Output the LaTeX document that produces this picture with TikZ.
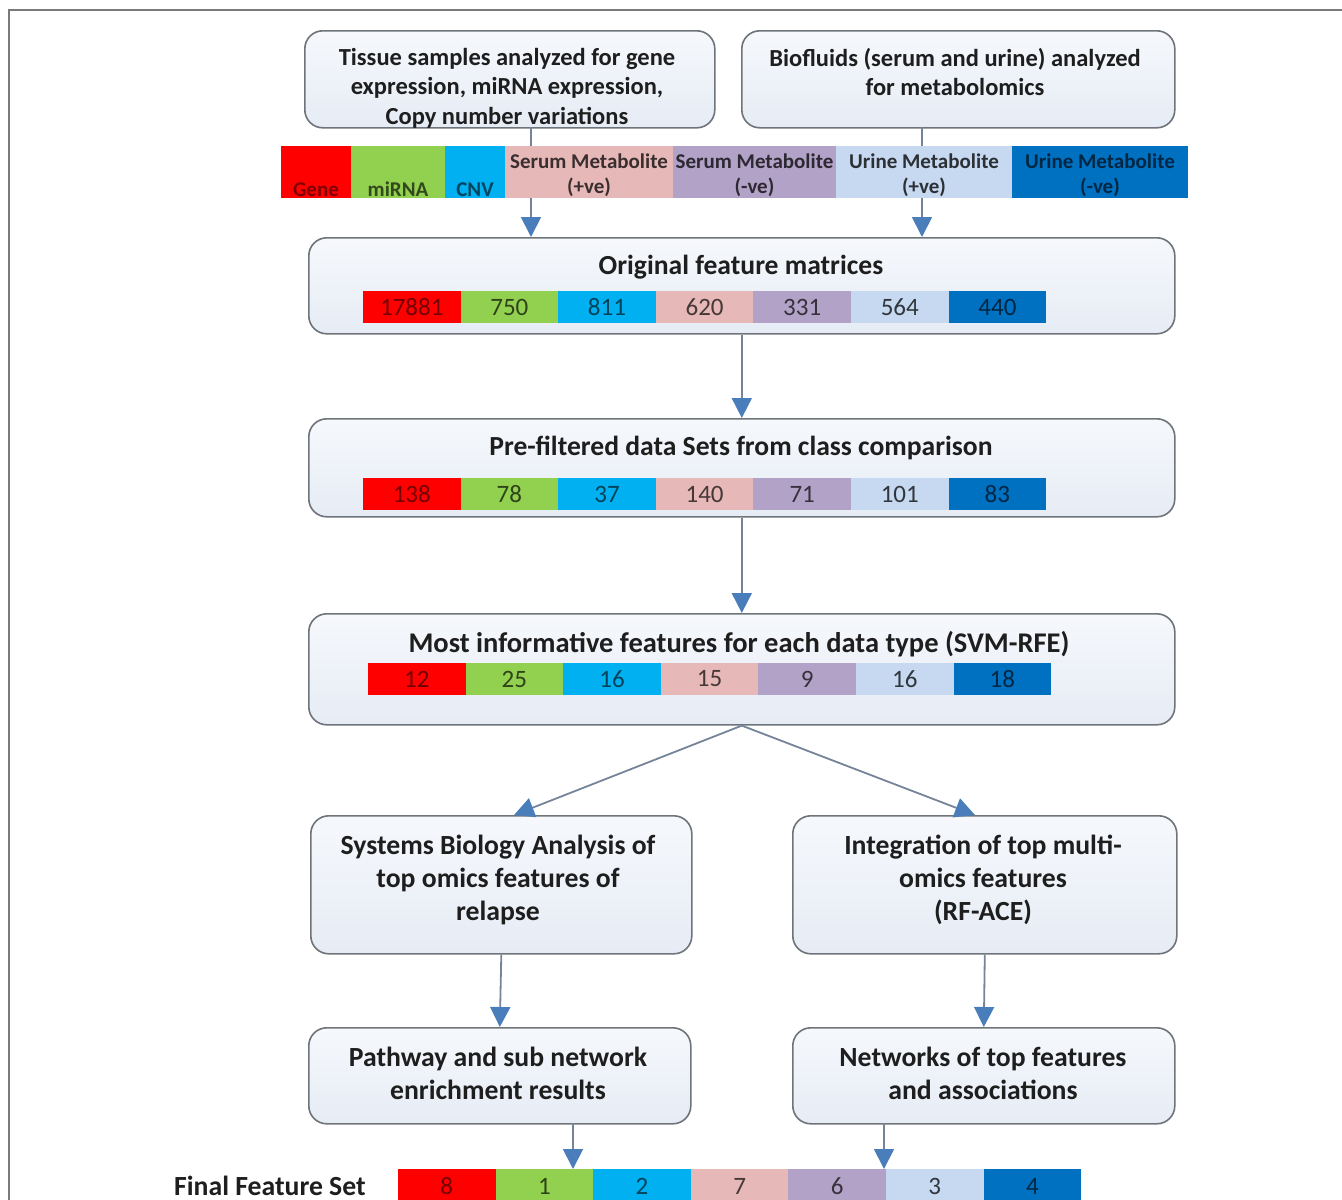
\documentclass[tikz,border=0pt]{standalone}
\usepackage{fontspec}
\setmainfont{Carlito}
\usetikzlibrary{arrows.meta}
\definecolor{cgene}{HTML}{FF0000}
\definecolor{cmir}{HTML}{92D050}
\definecolor{ccnv}{HTML}{00B0F0}
\definecolor{csp}{HTML}{E6B9B8}
\definecolor{csn}{HTML}{B3A2C7}
\definecolor{cup}{HTML}{C6D9F1}
\definecolor{cun}{HTML}{0070C0}
\definecolor{boxline}{HTML}{6E7479}
\definecolor{boxtop}{HTML}{F6F8FC}
\definecolor{boxbot}{HTML}{E6ECF5}
\definecolor{arrline}{HTML}{76849A}
\definecolor{arrtip}{HTML}{4A7EBB}
\definecolor{txt}{HTML}{1E1E1E}
\definecolor{framegray}{HTML}{7A7A7A}
\newcommand\ftopbox{\fontsize{24.5}{29.5}\selectfont\bfseries}
\newcommand\fheadline{\fontsize{27.6}{32}\selectfont\bfseries}
\newcommand\fheadlong{\fontsize{28.5}{32}\selectfont\bfseries}
\newcommand\fnumber{\fontsize{25}{30}\selectfont}
\newcommand\flowbox{\fontsize{27.7}{33}\selectfont\bfseries}
\newcommand\fbarlab{\fontsize{21}{25}\selectfont\bfseries}
\begin{document}
\begin{tikzpicture}[x=1pt,y=-1pt,
  box/.style={draw=boxline, line width=1.6, rounded corners=18, top color=boxtop, bottom color=boxbot, inner sep=0, anchor=north west},
  boxtext/.style={text=txt, align=center, inner sep=0},
  seg/.style={inner sep=0, minimum height=32, draw=none},
  arr/.style={draw=arrline, line width=1.8, -{Triangle[width=20,length=20,color=arrtip]}}]
\useasboundingbox (0,0) rectangle (1342,1200);
\draw[framegray, line width=1.5] (9,1210) -- (9,10) -- (1342,10);

% boxes
\node[box, minimum width=410, minimum height=97] (tl) at (304,30) {};
\node[box, minimum width=433, minimum height=97] (tr) at (741,30) {};
\node[box, minimum width=866, minimum height=96] (orig) at (308,237) {};
\node[box, minimum width=866, minimum height=98] (pre) at (308,418) {};
\node[box, minimum width=866, minimum height=111] (most) at (308,613) {};
\node[box, minimum width=381, minimum height=138] (sys) at (310,815) {};
\node[box, minimum width=384, minimum height=138] (intg) at (792,815) {};
\node[box, minimum width=382, minimum height=96] (path) at (308,1027) {};
\node[box, minimum width=382, minimum height=96] (netw) at (792,1027) {};

% box texts
\node[boxtext, font=\ftopbox] (tlt) at (507,88) {Tissue samples analyzed for gene\\expression, miRNA expression,\\Copy number variations};
\node[boxtext, font=\ftopbox] (trt) at (955,72) {Biofluids  (serum and urine) analyzed\\for metabolomics};
\node[boxtext, font=\fheadline] (origt) at (741,267) {Original feature matrices};
\node[boxtext, font=\fheadline] (pret) at (741,448) {Pre-filtered data Sets from class comparison};
\node[boxtext, font=\fheadlong] (mostt) at (739,644) {Most informative features for each data type (SVM-RFE)};
\node[boxtext, font=\flowbox] (syst) at (498,880) {Systems Biology Analysis of\\top omics features of\\relapse};
\node[boxtext, font=\flowbox] (intgt) at (983,880) {Integration of top multi-\\omics features\\(RF-ACE)};
\node[boxtext, font=\flowbox] (patht) at (498,1073) {Pathway and sub network\\enrichment results};
\node[boxtext, font=\flowbox] (netwt) at (983,1073) {Networks of top features\\and associations};
\node[boxtext, font=\flowbox, anchor=west] (finalt) at (174,1186) {Final Feature Set};

% connector anchors
\coordinate (c1) at (531,127);
\coordinate (c2) at (922,127);
\coordinate (c3) at (514,815);
\coordinate (c4) at (975,815);
\coordinate (c5) at (573,1123);
\coordinate (c6) at (884,1123);
\coordinate (fbar) at (398,1169);

% arrows
\draw[arr] (c1) -- (c1 |- orig.north);
\draw[arr] (c2) -- (c2 |- orig.north);
\draw[arr] (orig.south) -- (pre.north);
\draw[arr] (pre.south) -- (most.north);
\draw[arr] (most.south) -- (c3);
\draw[arr] (most.south) -- (c4);
\draw[arr] (sys.south) -- (path.north);
\draw[arr] (intg.south) -- (netw.north);
\draw[arr] (c5) -- (c5 |- fbar);
\draw[arr] (c6) -- (c6 |- fbar);

% top label bar
\foreach \i/\l/\r/\c/\k/\t in {1/281/351/cgene/50/{\strut\\Gene},
                           2/351/445/cmir/35/{\strut\\miRNA},
                           3/445/505/ccnv/40/{\strut\\CNV},
                           4/505/673/csp/25/{Serum Metabolite\\(+ve)},
                           5/673/836/csn/25/{Serum Metabolite\\(-ve)},
                           6/836/1012/cup/22/{Urine Metabolite\\(+ve)},
                           7/1012/1188/cun/35/{Urine Metabolite\\(-ve)}}
  \node[seg, fill=\c, minimum width={\r-\l}, minimum height=52,
        label={[inner sep=0, align=center, font=\fbarlab, text=\c!\k!black, yshift=-3.5pt]center:{\t}}] (lab\i) at ({(\l+\r)/2},172) {};

% numeric bars
\foreach \i/\c/\k/\a/\b/\m/\f in {1/cgene/45/17881/138/12/8, 2/cmir/32/750/78/25/1, 3/ccnv/38/811/37/16/2,
                               4/csp/30/620/140/15/7, 5/csn/30/331/71/9/6, 6/cup/25/564/101/16/3, 7/cun/35/440/83/18/4}{
  \node[seg, fill=\c, text=\c!\k!black, minimum width=97.6, font=\fnumber] (o\i) at ({363+97.6*(\i-0.5)},307) {\a};
  \node[seg, fill=\c, text=\c!\k!black, minimum width=97.6, font=\fnumber] (p\i) at ({363+97.6*(\i-0.5)},494) {\b};
  \node[seg, fill=\c, text=\c!\k!black, minimum width=97.6, font=\fnumber] (m\i) at ({368+97.6*(\i-0.5)},679) {\m};
  \node[seg, fill=\c, minimum width=97.6, minimum height=31,
        label={[inner sep=0, font=\fnumber, text=\c!\k!black, yshift=-2pt]center:\f}] (f\i) at ({398+97.6*(\i-0.5)},1184.5) {};
}
\end{tikzpicture}
\end{document}
